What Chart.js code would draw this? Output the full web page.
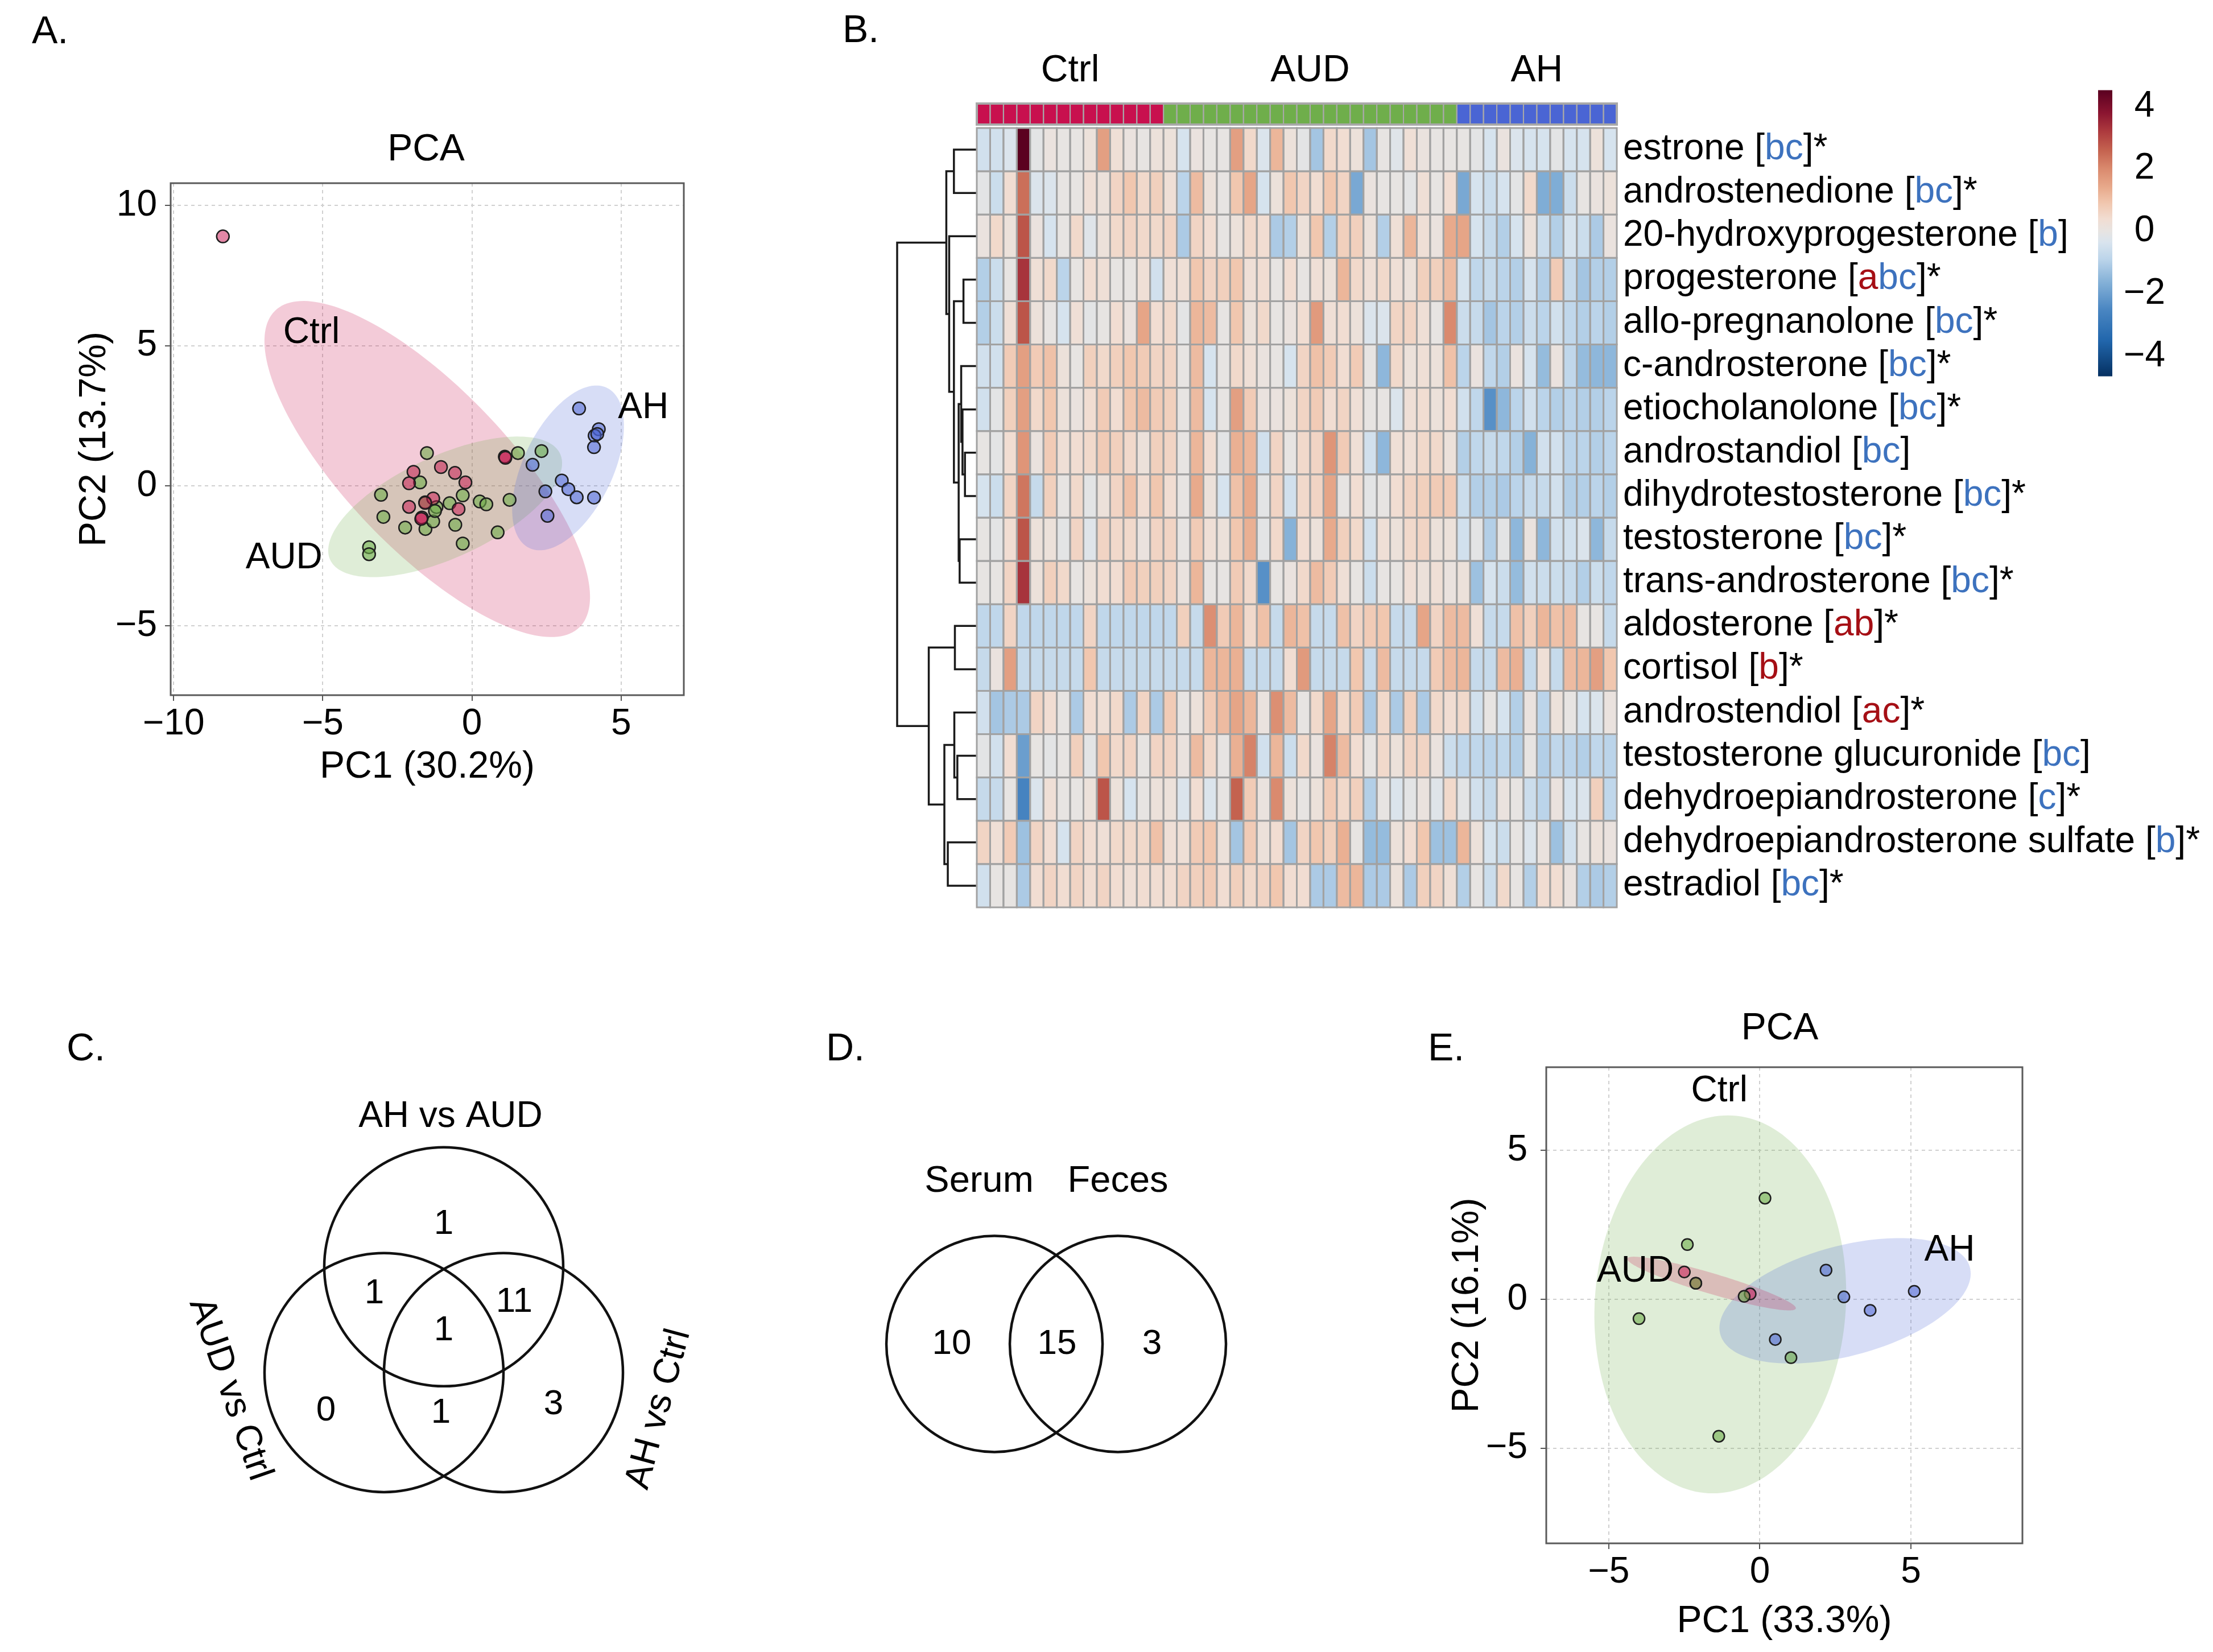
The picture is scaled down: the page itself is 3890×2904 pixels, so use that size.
<!DOCTYPE html>
<html>
<head>
<meta charset="utf-8">
<title>Serum steroid profiling</title>
<script src="https://cdn.jsdelivr.net/npm/chart.js@4.4.1/dist/chart.umd.min.js"></script>
<style>
  html, body { margin:0; padding:0; background:#ffffff; }
  body { position:relative; width:3890px; height:2904px; overflow:hidden; font-family:"Liberation Sans", Arial, Helvetica, sans-serif; }
  canvas { position:absolute; display:block; }
  .panel-letter { position:absolute; font-size:68px; line-height:1; color:#000; white-space:nowrap; }
</style>
</head>
<body>
<div class="panel-letter" style="left:56px;top:18px">A.</div>
<div class="panel-letter" style="left:1481px;top:16px">B.</div>
<div class="panel-letter" style="left:117px;top:1806px">C.</div>
<div class="panel-letter" style="left:1452px;top:1806px">D.</div>
<div class="panel-letter" style="left:2510px;top:1806px">E.</div>

<canvas id="pcaA" width="1250" height="1420" style="left:0px;top:0px"></canvas>
<canvas id="dendro" width="160" height="1425" style="left:1560px;top:200px"></canvas>
<canvas id="heat" width="2190" height="1560" style="left:1700px;top:60px"></canvas>
<canvas id="cbar" width="200" height="620" style="left:3670px;top:100px"></canvas>
<canvas id="vennC" width="1300" height="1154" style="left:0px;top:1750px"></canvas>
<canvas id="vennD" width="900" height="1154" style="left:1400px;top:1750px"></canvas>
<canvas id="pcaE" width="1440" height="1154" style="left:2450px;top:1750px"></canvas>

<script>
// ======================= DATA =======================
// Groups
const groupNames = ['Ctrl', 'AUD', 'AH'];
const groupSizes = [14, 22, 12];

// ---- Panel A: PCA (serum), PC1 30.2 %, PC2 13.7 % ----
const pcaA_ctrl_pc1 = [-8.35, -1.96, -2.11, -1.04, -0.57, -0.22, -1.30, -1.57, -2.11, -0.45, -1.68, -1.70, 1.10, 1.12];
const pcaA_ctrl_pc2 = [8.90, 0.50, 0.09, 0.67, 0.46, 0.12, -0.45, -0.61, -0.75, -0.83, -1.13, -1.18, 1.04, 1.00];
const pcaA_aud_pc1 = [-1.51, -1.74, -3.05, -2.97, -2.24, -1.56, -1.57, -1.30, -1.19, -1.24, -0.75, -0.31, -0.56, -0.31, 0.26, 0.48, 1.26, 0.86, 1.54, 2.33, -3.45, -3.45];
const pcaA_aud_pc2 = [1.17, 0.12, -0.32, -1.11, -1.49, -1.54, -0.59, -1.27, -0.76, -0.90, -0.62, -0.34, -1.39, -2.06, -0.56, -0.66, -0.50, -1.66, 1.17, 1.24, -2.19, -2.44];
const pcaA_ah_pc1 = [3.59, 4.25, 4.11, 4.20, 4.09, 2.03, 3.01, 3.23, 3.51, 4.09, 2.46, 2.53];
const pcaA_ah_pc2 = [2.76, 2.02, 1.79, 1.85, 1.38, 0.75, 0.19, -0.12, -0.41, -0.42, -0.20, -1.07];
// confidence ellipses: centre, two conjugate half-axes (PC units)
const ellA_ctrl = { c: [-1.5, 0.6], u: [5.1, -5.65], v: [1.94, 2.01] };
const ellA_aud  = { c: [-0.9, -0.75], u: [3.68, 2.14], v: [-1.35, 1.31] };
const ellA_ah   = { c: [3.22, 0.64], u: [1.53, 2.68], v: [1.08, -1.21] };
const pcaA_xTicks = [-10, -5, 0, 5];
const pcaA_yTicks = [-5, 0, 5, 10];

// ---- Panel E: PCA (feces), PC1 33.3 %, PC2 16.1 % ----
const pcaE_green_pc1 = [0.17, -2.40, -2.12, -0.52, -4.00, 1.03, -1.36];
const pcaE_green_pc2 = [3.40, 1.84, 0.54, 0.10, -0.65, -1.96, -4.60];
const pcaE_pink_pc1 = [-2.50, -0.32, -2.12];
const pcaE_pink_pc2 = [0.92, 0.18, 0.54];
const pcaE_blue_pc1 = [2.19, 2.78, 3.65, 5.11, 0.51];
const pcaE_blue_pc2 = [0.98, 0.08, -0.37, 0.27, -1.35];
const ellE_green = { c: [-1.31, -0.17], u: [0.25, 6.35], v: [4.16, 0] };
const ellE_blue  = { c: [2.82, -0.05], u: [3.95, 1.46], v: [-1.3, 1.52] };
const ellE_pink  = { c: [-1.6, 0.53], u: [2.79, -0.84], v: [0.1, 0.33] };
const pcaE_xTicks = [-5, 0, 5];
const pcaE_yTicks = [-5, 0, 5];

// ---- Panel B: heatmap (z-scores), 18 steroids x 48 samples (14 Ctrl, 22 AUD, 12 AH) ----
const rowNames = ['estrone', 'androstenedione', '20-hydroxyprogesterone', 'progesterone', 'allo-pregnanolone',
  'c-androsterone', 'etiocholanolone', 'androstandiol', 'dihydrotestosterone', 'testosterone',
  'trans-androsterone', 'aldosterone', 'cortisol', 'androstendiol', 'testosterone glucuronide',
  'dehydroepiandrosterone', 'dehydroepiandrosterone sulfate', 'estradiol'];
const rowLetters = ['bc','bc','b','abc','bc','bc','bc','bc','bc','bc','bc','ab','b','ac','bc','c','b','bc'];
const rowUpLetters = ['','','','a','','','','','','','','ab','b','ac','','','',''];
const rowStar = [1,1,0,1,1,1,1,0,1,1,1,1,1,1,0,1,1,1];

const hm_estrone = [-0.5,-0.5,-0.3,4.5,-0.1,0.1,0,0,0.2,1.6,0.3,0.1,0,0.2,
  0.2,-0.4,0.1,0,0,1.6,0.5,-0.3,1.2,0.2,-0.1,-1.2,0.5,0.4,0.2,-1.2,0,-0.2,0.3,0.1,0,0,
  0,-0.1,-0.4,0.1,-0.3,-0.4,-0.4,-0.1,-0.4,-0.4,0.2,-0.4];
const hm_androstenedione = [-0.1,-0.6,0.4,2.4,-0.3,-0.3,0,0,0.3,0.2,0.6,0.9,0.5,0.7,
  0.3,-0.9,1.1,0.2,0,0.9,1.5,-0.4,0.2,0.9,0.6,0.4,0.9,0.6,-1.8,0.1,0,0,-0.1,0.3,0,0.4,
  -1.8,-0.4,-0.6,-0.4,-0.1,0.5,-1.7,-1.7,-0.6,0,0.1,0.2];
const hm_hydroxyprogesterone = [0.1,0.5,0.2,2.8,0.1,-0.4,0,0.5,-0.2,0.2,0.5,0.6,0.5,0.5,
  0.6,-1.1,0.6,0.4,0,0.2,0.5,0.4,-1.1,-1.0,0.2,0.9,-1.0,0.7,0.7,0.2,-1.0,0.3,1.2,0.3,0.1,1.4,
  1.5,-0.4,-0.7,-1.0,-0.4,0.2,-0.6,-1.0,-0.4,-0.6,-1.1,0.1];
const hm_progesterone = [-1.0,-0.6,0,3.3,0.3,0.5,-0.9,0,0.4,0.3,0,0,0.3,-0.5,
  0.3,0.3,0.9,0.6,0.7,0.9,0.3,0.4,0,0.4,0,0.3,0.2,1.2,0.5,0.3,0.5,0.3,0.2,0.7,0.7,1.1,
  -0.4,-0.8,-0.7,-0.9,-1.0,-0.4,-1.0,0.8,-0.7,-1.2,-1.0,-1.0];
const hm_allopregnanolone = [-1.0,-0.6,0.3,2.8,0.2,0,-0.4,0.3,-0.1,0,0.4,0.1,1.5,0.4,
  0.5,-0.1,1.2,1.1,0,0.9,0.2,0.5,0,0.1,0.4,1.7,0.3,0.4,0.2,-0.3,-0.3,0.6,0.6,0.3,0,2.0,
  -0.6,-0.7,-1.2,-0.9,-1.0,-0.6,-0.9,-0.5,-0.8,-1.0,-0.9,-1.0];
const hm_candrosterone = [-0.5,-0.5,0.8,1.6,0.8,1.0,0.2,0,0.7,0.5,0.7,0.9,0.8,0.6,
  0.6,0,1.1,-0.4,0,0.5,0.3,0.1,0,-0.4,0.6,1.0,0.8,0.4,0.8,0,-1.5,0.5,0.2,0.3,0.2,1.0,
  -0.9,0.1,-0.8,-1.0,0.1,-0.4,-1.4,0.1,-0.8,-1.4,-1.5,-1.5];
const hm_etiocholanolone = [-0.5,-0.1,0.7,1.6,0.5,0.9,0.2,0.1,0.4,0.8,0.4,0.9,1.1,0.8,
  0.7,0,1.1,-0.4,0,1.6,0.8,0.1,0.1,0.2,0.6,0.8,0.4,0.6,0.3,0,0,-0.3,0.3,0.4,0.2,0.4,
  -0.5,-0.8,-2.3,-1.5,-0.9,-0.5,-0.9,-1.0,-0.9,-1.0,-1.0,-0.9];
const hm_androstandiol = [0,-0.1,0.4,1.8,0.1,0.8,0.3,0.4,0.5,0.8,0.7,0.5,0.2,0.7,
  0.6,0,1.2,0.4,-0.1,1.3,1.2,-0.5,0.6,0,0.5,0.6,1.8,0.8,0.3,-0.5,-1.5,0.3,0.3,0.5,0.5,0.2,
  -1.0,-0.8,-0.7,-0.8,-1.0,-1.6,-0.5,-0.5,-0.9,-0.9,-1.0,-0.9];
const hm_dihydrotestosterone = [-0.4,-0.6,0.6,2.3,-0.7,0.7,0,0.5,-0.1,0.2,0.6,1.0,0.4,0.9,
  0.4,0,1.4,0.2,-0.4,1.0,1.4,-0.1,0.6,-0.5,0.5,0.6,1.5,0,0.4,-0.1,0,0.4,0.6,0.7,0.8,0.8,
  -0.6,-1.0,-1.0,-1.1,-0.9,-0.7,-0.7,-0.5,-1.0,-1.0,-0.9,-1.0];
const hm_testosterone = [0,-0.1,0.4,2.8,0.2,0.2,-0.1,0.6,-0.2,0.6,0.5,0.5,0.1,0.6,
  0.6,0,0.8,0.3,0.2,0.9,1.3,-0.1,0.5,-1.6,0.4,0.2,1.4,0.7,0.5,-0.5,0.3,0.2,0.5,0.6,0.2,0.2,
  -0.5,-0.1,-1.0,-0.1,-1.5,0.1,-1.5,-0.5,-0.5,-0.3,-1.5,-0.7];
const hm_transandrosterone = [0,0,0.6,3.3,0.2,0.7,0.5,0,0.2,0.4,0.4,0.8,0.7,0.7,
  0.6,0.1,1.2,0,0,0.8,0.5,-2.3,0,0.1,0.5,1.1,0.8,0.3,0,-0.6,0,0,0.3,0.2,0.3,0.1,
  0.2,-1.3,-0.4,-0.6,-1.4,-0.5,-0.6,-0.6,-0.7,-1.0,-0.6,-0.8];
const hm_aldosterone = [-0.8,-0.8,0.6,-0.8,-0.8,-0.8,-0.8,-0.8,0.6,-0.8,-0.8,-0.8,-0.8,-0.8,
  -0.8,0.7,-0.7,1.9,0.8,1.2,0.5,1.0,-0.7,1.2,1.0,-0.7,-0.7,1.0,0.6,0.8,0.9,-0.7,-0.7,1.5,0.6,1.1,
  1.1,0.3,-0.7,-0.7,1.0,0.7,1.2,1.0,1.1,0,0,-0.7];
const hm_cortisol = [-0.7,0.1,1.6,-0.7,-0.7,-0.7,-0.7,-0.7,0.9,-0.7,-0.7,-0.7,-0.7,-0.7,
  -0.7,-0.7,-0.7,1.2,1.2,1.3,-0.7,-0.7,-0.7,0.4,1.7,-0.7,-0.7,-0.7,0.9,-0.7,1.1,-0.7,-0.7,-0.7,0.8,1.1,
  1.2,-0.7,-0.7,1.1,1.3,-0.7,0.3,-0.7,1.1,1.2,1.6,0.9];
const hm_androstendiol = [-0.5,-1.2,-1.1,-1.1,0.6,0.4,0,-1.1,0.4,0.3,0.5,-1.1,0.6,-1.1,
  0.8,0,0.2,0.8,1.1,1.5,1.2,0.1,1.9,1.1,0,0.5,1.5,0.5,0.8,-1.1,0.5,-1.1,0.7,-1.1,0.5,0.4,
  0.5,-0.5,0,-0.4,-1.0,0.1,-0.9,0.2,0,-0.4,-0.3,0.1];
const hm_testosteroneGlucuronide = [-0.1,-0.5,0.4,-2.0,0,-0.1,0,0.7,-0.1,0.9,0.5,0.6,0,0.6,
  0.6,0.1,1.1,0.5,0,1.3,2.1,-0.5,1.2,-0.6,0.5,0.1,2.1,1.1,0.4,0,0.5,0.2,0.6,0.6,0.1,-0.6,
  -0.8,-0.8,-0.9,-0.8,-1.0,0,-1.0,-0.8,-0.9,-1.0,-0.8,-0.9];
const hm_dhea = [-0.7,-0.7,0,-2.6,-0.3,0.3,0,0,0.2,2.8,0.2,-0.4,0,0.2,
  0.2,-0.3,0.4,-0.3,0,2.6,0.8,0.1,2.0,0.2,0,0.2,0.8,0.5,0.7,-1.0,0,-0.3,-0.1,0.1,-0.2,0.5,
  -0.1,-0.5,-0.7,0.1,0,-0.6,-0.9,0.1,-0.4,-0.3,0.7,-0.8];
const hm_dheaSulfate = [0.6,0.3,0.8,-1.3,0.6,0.4,-0.4,0.6,0.4,0.3,0.5,0.5,0.5,1.0,
  0.3,0.3,0.8,0.9,0.2,-1.2,0.8,0.2,0.4,-1.2,0.6,0.9,0.7,1.3,0,-1.4,-1.4,0.2,0.4,0.9,-1.3,-1.3,
  1.2,0.2,-0.4,-0.6,0,-0.3,0.1,-1.3,-0.5,0,0.2,0.1];
const hm_estradiol = [-0.5,0,0,-1.1,0.4,0.6,0.4,0.6,0.4,0.6,0.4,0.3,0.4,0.4,
  0.4,0.6,0.7,0.8,0.4,0.7,0.5,0.6,0.9,0.4,0.4,-1.1,-1.1,1.1,1.2,-1.1,-1.1,0.2,-1.1,0.7,0.6,0.3,
  -1.0,0,-0.6,0.5,0,-1.0,0.4,0.4,0.1,-1.0,-1.1,-1.0];

// row dendrogram (hclust-style merges: negative = row, positive = earlier merge; third = height)
const dendroMerges = [[-1,-2,40.0],[-4,-5,23.3],[-8,-9,20.7],[-7,3,25.0],[-6,4,27.3],[-10,-11,30.0],
  [5,6,31.7],[2,7,40.0],[-3,8,48.3],[1,9,53.3],[-12,-13,38.3],[-15,-16,34.0],[-14,12,39.3],
  [-17,-18,50.7],[13,14,56.7],[11,15,84.0],[10,16,139.3]];

// colour key
const colorbarRange = [-4.64, 4.52];
const colorbarTicks = [-4, -2, 0, 2, 4];

// ---- Panel C: Venn of significant steroids per comparison ----
const vennC_sets = ['AH vs AUD', 'AUD vs Ctrl', 'AH vs Ctrl'];
const vennC_regions = ['AH vs AUD only', 'AH vs AUD & AUD vs Ctrl', 'AH vs AUD & AH vs Ctrl', 'all three',
  'AUD vs Ctrl only', 'AUD vs Ctrl & AH vs Ctrl', 'AH vs Ctrl only'];
const vennC_counts = [1, 1, 11, 1, 0, 1, 3];

// ---- Panel D: Venn serum vs feces ----
const vennD_sets = ['Serum', 'Feces'];
const vennD_regions = ['Serum only', 'both', 'Feces only'];
const vennD_counts = [10, 15, 3];

// ======================= STYLE / LAYOUT =======================
const FONT = '"Liberation Sans", Arial, Helvetica, sans-serif';
Chart.defaults.font.family = FONT;
Chart.defaults.color = '#000';
const minusFmt = v => String(v).replace('-', '\u2212');
const groupColor = { Ctrl: '#c8104e', AUD: '#6fae4b', AH: '#4a65d4' };
const rgba = (hex, a) => {
  const n = parseInt(hex.slice(1), 16);
  return `rgba(${(n >> 16) & 255},${(n >> 8) & 255},${n & 255},${a})`;
};

// ---------- PCA charts ----------
function pcaChart(id, s) {
  const ellipsePlugin = {
    id: 'ellipses',
    beforeDatasetsDraw(chart) {
      const { ctx, chartArea: ca, scales: { x, y } } = chart;
      ctx.save();
      ctx.beginPath(); ctx.rect(ca.left, ca.top, ca.width, ca.height); ctx.clip();
      s.ellipses.forEach(e => {
        ctx.beginPath();
        for (let k = 0; k <= 180; k++) {
          const t = k / 180 * 2 * Math.PI;
          const dx = e.c[0] + Math.cos(t) * e.u[0] + Math.sin(t) * e.v[0];
          const dy = e.c[1] + Math.cos(t) * e.u[1] + Math.sin(t) * e.v[1];
          const px = x.getPixelForValue(dx), py = y.getPixelForValue(dy);
          if (k === 0) ctx.moveTo(px, py); else ctx.lineTo(px, py);
        }
        ctx.closePath();
        ctx.fillStyle = e.fill;
        ctx.fill();
      });
      ctx.restore();
    },
    afterDraw(chart) {
      const { ctx, chartArea: ca, scales: { x, y } } = chart;
      ctx.save();
      ctx.strokeStyle = '#5a5a5a'; ctx.lineWidth = 3;
      ctx.strokeRect(ca.left, ca.top, ca.width, ca.height);
      ctx.fillStyle = '#000'; ctx.textAlign = 'center'; ctx.textBaseline = 'middle';
      ctx.font = `64px ${FONT}`;
      s.labels.forEach(l => ctx.fillText(l.text, x.getPixelForValue(l.x), y.getPixelForValue(l.y)));
      ctx.font = `66px ${FONT}`;
      ctx.fillText(s.title, (ca.left + ca.right) / 2 + s.titleDx, s.titleY);
      ctx.restore();
    }
  };
  const axisCommon = (ticks, tickPad) => ({
    type: 'linear',
    afterBuildTicks: sc => { sc.ticks = ticks.map(v => ({ value: v })); },
    ticks: { font: { size: 64 }, color: '#000', padding: tickPad, callback: minusFmt, maxRotation: 0, autoSkip: false },
    grid: { color: '#d0d0d0', lineWidth: 2, tickColor: '#555', tickLength: 10, tickWidth: 2, tickBorderDash: [] },
    border: { display: false, dash: [6, 6] }
  });
  return new Chart(document.getElementById(id), {
    type: 'scatter',
    data: {
      datasets: s.groups.map(g => ({
        label: g.name,
        data: g.pc1.map((v, i) => ({ x: v, y: g.pc2[i] })),
        backgroundColor: g.fill, borderColor: '#1e1e1e', borderWidth: 2.5,
        pointRadius: s.radius, pointHoverRadius: s.radius
      }))
    },
    options: {
      responsive: false, animation: false, devicePixelRatio: 1, events: [],
      layout: { padding: s.padding },
      scales: {
        x: Object.assign(axisCommon(s.xTicks, s.xTickPad), {
          min: s.xRange[0], max: s.xRange[1],
          afterFit: sc => { sc.height = s.xAxisHeight; },
          title: { display: true, text: s.xTitle, font: { size: 66 }, color: '#000', padding: { top: 0, bottom: 0 } }
        }),
        y: Object.assign(axisCommon(s.yTicks, s.yTickPad), {
          min: s.yRange[0], max: s.yRange[1],
          afterFit: sc => { sc.width = s.yAxisWidth; },
          title: { display: true, text: s.yTitle, font: { size: 66 }, color: '#000', padding: { top: s.yTitlePad, bottom: 0 } }
        })
      },
      plugins: { legend: { display: false }, tooltip: { enabled: false }, title: { display: false } }
    },
    plugins: [ellipsePlugin]
  });
}

pcaChart('pcaA', {
  groups: [
    { name: 'Ctrl', pc1: pcaA_ctrl_pc1, pc2: pcaA_ctrl_pc2, fill: rgba(groupColor.Ctrl, 0.5) },
    { name: 'AUD', pc1: pcaA_aud_pc1, pc2: pcaA_aud_pc2, fill: rgba(groupColor.AUD, 0.6) },
    { name: 'AH', pc1: pcaA_ah_pc1, pc2: pcaA_ah_pc2, fill: rgba(groupColor.AH, 0.55) }
  ],
  ellipses: [
    Object.assign({ fill: rgba(groupColor.Ctrl, 0.22) }, ellA_ctrl),
    Object.assign({ fill: rgba(groupColor.AUD, 0.22) }, ellA_aud),
    Object.assign({ fill: rgba(groupColor.AH, 0.22) }, ellA_ah)
  ],
  labels: [{ text: 'Ctrl', x: -5.38, y: 5.46 }, { text: 'AUD', x: -6.3, y: -2.59 }, { text: 'AH', x: 5.74, y: 2.77 }],
  title: 'PCA', titleY: 264, titleDx: -2,
  xTitle: 'PC1 (30.2%)', yTitle: 'PC2 (13.7%)',
  xRange: [-10.1, 7.1], yRange: [-7.47, 10.8], xTicks: pcaA_xTicks, yTicks: pcaA_yTicks,
  padding: { left: 100, top: 322, right: 48, bottom: 32 },
  yAxisWidth: 200, xAxisHeight: 166, yTitlePad: 27, yTickPad: 14, xTickPad: 3, radius: 11
});

pcaChart('pcaE', {
  groups: [
    { name: 'green', pc1: pcaE_green_pc1, pc2: pcaE_green_pc2, fill: rgba(groupColor.AUD, 0.6) },
    { name: 'pink', pc1: pcaE_pink_pc1, pc2: pcaE_pink_pc2, fill: rgba(groupColor.Ctrl, 0.5) },
    { name: 'blue', pc1: pcaE_blue_pc1, pc2: pcaE_blue_pc2, fill: rgba(groupColor.AH, 0.55) }
  ],
  ellipses: [
    Object.assign({ fill: rgba(groupColor.AUD, 0.22) }, ellE_green),
    Object.assign({ fill: rgba(groupColor.AH, 0.22) }, ellE_blue),
    Object.assign({ fill: rgba(groupColor.Ctrl, 0.22) }, ellE_pink)
  ],
  labels: [{ text: 'Ctrl', x: -1.34, y: 6.99 }, { text: 'AUD', x: -4.12, y: 0.94 }, { text: 'AH', x: 6.28, y: 1.63 }],
  title: 'PCA', titleY: 59, titleDx: -8,
  xTitle: 'PC1 (33.3%)', yTitle: 'PC2 (16.1%)',
  xRange: [-7.07, 8.69], yRange: [-8.2, 7.8], xTicks: pcaE_xTicks, yTicks: pcaE_yTicks,
  padding: { left: 70, top: 126, right: 335, bottom: 14 },
  yAxisWidth: 198, xAxisHeight: 177, yTitlePad: 20.4, yTickPad: 23, xTickPad: 3, radius: 10
});

// ---------- Heatmap ----------
const hmRows = [hm_estrone, hm_androstenedione, hm_hydroxyprogesterone, hm_progesterone, hm_allopregnanolone,
  hm_candrosterone, hm_etiocholanolone, hm_androstandiol, hm_dihydrotestosterone, hm_testosterone,
  hm_transandrosterone, hm_aldosterone, hm_cortisol, hm_androstendiol, hm_testosteroneGlucuronide,
  hm_dhea, hm_dheaSulfate, hm_estradiol];
const sampleGroup = [];
const sampleIds = [];
groupNames.forEach((g, gi) => { for (let k = 1; k <= groupSizes[gi]; k++) { sampleGroup.push(g); sampleIds.push(g + k); } });

const paletteStops = [-4.64, -3.5, -2.5, -1.6, -0.9, -0.35, 0, 0.4, 0.9, 1.4, 2.0, 2.6, 3.2, 3.8, 4.52];
const paletteHex = ['#053061', '#2166ac', '#4a86c2', '#86b2d8', '#bbd4ea', '#d9e4ee', '#e7e4e2', '#f1ddd2',
  '#f1c7af', '#e8aa8c', '#da8a6e', '#c4624f', '#ad3a3e', '#8a1430', '#5a0020'];
const hexRGB = h => { const n = parseInt(h.slice(1), 16); return [(n >> 16) & 255, (n >> 8) & 255, n & 255]; };
function colorFor(v) {
  if (v <= paletteStops[0]) return paletteHex[0];
  for (let i = 1; i < paletteStops.length; i++) {
    if (v <= paletteStops[i]) {
      const t = (v - paletteStops[i - 1]) / (paletteStops[i] - paletteStops[i - 1]);
      const a = hexRGB(paletteHex[i - 1]), b = hexRGB(paletteHex[i]);
      const c = a.map((q, k) => Math.round(q + (b[k] - q) * t));
      return `rgb(${c[0]},${c[1]},${c[2]})`;
    }
  }
  return paletteHex[paletteHex.length - 1];
}

const heatPlugin = {
  id: 'heatCells',
  afterDraw(chart) {
    const { ctx, chartArea: ca, scales: { x, y } } = chart;
    const cw = x.getPixelForValue(1) - x.getPixelForValue(0);
    const ch = y.getPixelForValue(1) - y.getPixelForValue(0);
    ctx.save();
    chart.data.datasets.forEach((ds, i) => {
      chart.getDatasetMeta(i).data.forEach((pt, j) => {
        ctx.fillStyle = colorFor(ds.data[j].v);
        ctx.fillRect(pt.x - cw / 2, pt.y - ch / 2, cw, ch);
      });
    });
    ctx.strokeStyle = '#a2a2a2'; ctx.lineWidth = 3;
    chart.data.datasets.forEach((ds, i) => {
      chart.getDatasetMeta(i).data.forEach(pt => ctx.strokeRect(pt.x - cw / 2, pt.y - ch / 2, cw, ch));
    });
    // group annotation bar
    sampleGroup.forEach((g, j) => {
      const px = x.getPixelForValue(j);
      ctx.fillStyle = groupColor[g];
      ctx.fillRect(px - cw / 2, ca.top - 42, cw, 35);
    });
    ctx.lineWidth = 2; ctx.strokeStyle = '#a8a8a8';
    sampleGroup.forEach((g, j) => {
      const px = x.getPixelForValue(j);
      ctx.strokeRect(px - cw / 2, ca.top - 42, cw, 35);
    });
    ctx.lineWidth = 4;
    ctx.strokeRect(ca.left, ca.top - 43, ca.width, 37);
    // group labels
    ctx.fillStyle = '#000'; ctx.textAlign = 'center'; ctx.textBaseline = 'middle';
    ctx.font = `66px ${FONT}`;
    let start = 0;
    groupNames.forEach((g, gi) => {
      const end = start + groupSizes[gi] - 1;
      const cx = (x.getPixelForValue(start) + x.getPixelForValue(end)) / 2;
      ctx.fillText(g, cx, ca.top - 100);
      start = end + 1;
    });
    // row labels with coloured significance letters
    ctx.textAlign = 'left'; ctx.textBaseline = 'alphabetic';
    ctx.font = `64px ${FONT}`;
    rowNames.forEach((name, i) => {
      const py = y.getPixelForValue(i) + 17;
      let px = ca.right + 11;
      const parts = [[name + ' [', '#000']];
      for (const c of rowLetters[i]) parts.push([c, rowUpLetters[i].includes(c) ? '#a50f15' : '#3d72be']);
      parts.push([']' + (rowStar[i] ? '*' : ''), '#000']);
      parts.forEach(([t, col]) => { ctx.fillStyle = col; ctx.fillText(t, px, py); px += ctx.measureText(t).width; });
    });
    ctx.restore();
  }
};

new Chart(document.getElementById('heat'), {
  type: 'scatter',
  data: {
    datasets: hmRows.map((row, i) => ({
      label: rowNames[i],
      data: row.map((v, j) => ({ x: sampleIds[j], y: rowNames[i], v })),
      pointRadius: 0, pointHoverRadius: 0
    }))
  },
  options: {
    responsive: false, animation: false, devicePixelRatio: 1, events: [],
    layout: { padding: { left: 17, top: 165, right: 1048, bottom: 25 } },
    scales: {
      x: { type: 'category', labels: sampleIds, offset: true, display: false },
      y: { type: 'category', labels: rowNames, offset: true, display: false }
    },
    plugins: { legend: { display: false }, tooltip: { enabled: false } }
  },
  plugins: [heatPlugin]
});

// ---------- Dendrogram ----------
const dendroDatasets = [];
const nodeY = [], nodeH = [];
const childInfo = c => (c < 0 ? { y: -c - 1, h: 0 } : { y: nodeY[c - 1], h: nodeH[c - 1] });
dendroMerges.forEach(([a, b, h], k) => {
  const A = childInfo(a), B = childInfo(b);
  nodeY[k] = (A.y + B.y) / 2; nodeH[k] = h;
  dendroDatasets.push({
    data: [{ x: A.h, y: A.y }, { x: h, y: A.y }, { x: h, y: B.y }, { x: B.h, y: B.y }],
    showLine: true, borderColor: '#1a1a1a', borderWidth: 3.5, pointRadius: 0, fill: false,
    tension: 0, clip: 12
  });
});
new Chart(document.getElementById('dendro'), {
  type: 'scatter',
  data: { datasets: dendroDatasets },
  options: {
    responsive: false, animation: false, devicePixelRatio: 1, events: [],
    layout: { padding: { left: 17, top: 25, right: 3, bottom: 30 } },
    scales: {
      x: { type: 'linear', min: 0, max: 139.3, reverse: true, display: false },
      y: { type: 'linear', min: -0.5, max: rowNames.length - 0.5, reverse: true, display: false }
    },
    plugins: { legend: { display: false }, tooltip: { enabled: false } }
  }
});

// ---------- Colour key ----------
new Chart(document.getElementById('cbar'), {
  type: 'bar',
  data: {
    labels: ['z-score'],
    datasets: [{
      data: [colorbarRange],
      borderWidth: 0, barPercentage: 1, categoryPercentage: 1,
      backgroundColor: c => {
        const chart = c.chart; const ys = chart.scales.y;
        if (!chart.chartArea || !ys) return '#ccc';
        const g = chart.ctx.createLinearGradient(0, ys.getPixelForValue(colorbarRange[0]), 0, ys.getPixelForValue(colorbarRange[1]));
        paletteStops.forEach((s, i) => g.addColorStop((s - colorbarRange[0]) / (colorbarRange[1] - colorbarRange[0]), paletteHex[i]));
        return g;
      }
    }]
  },
  options: {
    responsive: false, animation: false, devicePixelRatio: 1, events: [],
    layout: { padding: { left: 18, top: 50, right: 0, bottom: 42 } },
    scales: {
      x: { display: false },
      y: {
        position: 'right', min: colorbarRange[0], max: colorbarRange[1],
        afterBuildTicks: sc => { sc.ticks = colorbarTicks.map(v => ({ value: v })); },
        afterFit: sc => { sc.width = 157; },
        grid: { display: false, drawTicks: false },
        border: { display: false },
        ticks: { font: { size: 64 }, color: '#000', padding: 20, crossAlign: 'center', callback: minusFmt }
      }
    },
    plugins: { legend: { display: false }, tooltip: { enabled: false } }
  }
});

// ---------- Venn diagrams ----------
function vennChart(id, s) {
  const textPlugin = {
    id: 'vennText',
    afterDatasetsDraw(chart) {
      const { ctx, scales: { x, y } } = chart;
      ctx.save();
      ctx.fillStyle = '#000'; ctx.textAlign = 'center'; ctx.textBaseline = 'middle';
      s.setLabels.forEach(l => {
        ctx.save();
        ctx.translate(x.getPixelForValue(l.x), y.getPixelForValue(l.y));
        ctx.rotate((l.rot || 0) * Math.PI / 180);
        ctx.font = `${s.setSize}px ${FONT}`;
        ctx.fillText(l.text, 0, 0);
        ctx.restore();
      });
      ctx.font = `${s.countSize}px ${FONT}`;
      s.countLabels.forEach(l => ctx.fillText(String(l.text), x.getPixelForValue(l.x), y.getPixelForValue(l.y)));
      ctx.restore();
    }
  };
  const radiusPx = c => { const xs = c.chart.scales.x; return xs ? Math.abs(xs.getPixelForValue(1) - xs.getPixelForValue(0)) : 0; };
  return new Chart(document.getElementById(id), {
    type: 'scatter',
    data: {
      datasets: [{
        data: s.circles,
        pointStyle: 'circle', backgroundColor: 'rgba(0,0,0,0)', borderColor: '#111', borderWidth: 4.5,
        pointRadius: radiusPx, pointHoverRadius: radiusPx,
        clip: false
      }]
    },
    options: {
      responsive: false, animation: false, devicePixelRatio: 1, events: [],
      layout: { padding: 0 },
      scales: {
        x: { type: 'linear', min: s.xRange[0], max: s.xRange[1], display: false },
        y: { type: 'linear', min: s.yRange[0], max: s.yRange[1], display: false }
      },
      plugins: { legend: { display: false }, tooltip: { enabled: false } }
    },
    plugins: [textPlugin]
  });
}

// layout positions (units of one circle radius)
const vennC_countPos = [[0, 1.243], [-0.581, 0.662], [0.590, 0.590], [0, 0.352], [-0.986, -0.319], [-0.024, -0.338], [0.919, -0.267]];
vennChart('vennC', {
  xRange: [-3.714, 2.476], yRange: [-2.339, 3.157],
  circles: [{ x: 0, y: 0.886 }, { x: -0.5, y: 0 }, { x: 0.5, y: 0 }],
  setSize: 64, countSize: 62,
  setLabels: [
    { text: vennC_sets[0], x: 0.057, y: 2.14, rot: 0 },
    { text: vennC_sets[1], x: -1.79, y: -0.14, rot: 71 },
    { text: vennC_sets[2], x: 1.80, y: -0.305, rot: -75 }
  ],
  countLabels: vennC_counts.map((n, i) => ({ text: n, x: vennC_countPos[i][0], y: vennC_countPos[i][1] }))
});

const vennD_countPos = [[-0.966, 0], [0.008, 0], [0.887, 0]];
vennChart('vennD', {
  xRange: [-2.403, 2.334], yRange: [-2.85, 3.224],
  circles: [{ x: -0.571, y: 0 }, { x: 0.571, y: 0 }],
  setSize: 65, countSize: 62,
  setLabels: [
    { text: vennD_sets[0], x: -0.713, y: 1.5 },
    { text: vennD_sets[1], x: 0.571, y: 1.5 }
  ],
  countLabels: vennD_counts.map((n, i) => ({ text: n, x: vennD_countPos[i][0], y: vennD_countPos[i][1] }))
});
</script>
</body>
</html>
